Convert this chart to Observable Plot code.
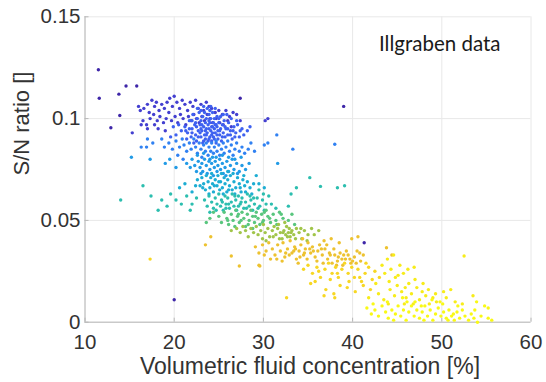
<!DOCTYPE html>
<html><head><meta charset="utf-8">
<script src="https://cdn.jsdelivr.net/npm/d3@7"></script>
<script src="https://cdn.jsdelivr.net/npm/@observablehq/plot@0.6"></script>
<style>body{margin:0;background:#fff}</style>
</head><body><div id="chart"></div>
<script>
const xTicks = [10, 20, 30, 40, 50, 60];
const yTicks = [0, 0.05, 0.1, 0.15];
const yTickLabels = ["0", "0.05", "0.1", "0.15"];
const xLabel = "Volumetric fluid concentration [%]";
const yLabel = "S/N ratio []";
const annotation = "Illgraben data";
const parulaStops = ["#3e26a8", "#4852f4", "#2e87f7", "#12b1d6", "#37c897", "#abc739", "#fbb833", "#f5e51c", "#f9fb14"];

// [fluid concentration %, S/N ratio] grouped by colour level
const outliers = [[11.5,.124],[11.6,.110],[13.8,.112],[14.6,.116],[15.8,.116],[13.9,.1015],[12.9,.0955],[20.0,.011],[39.0,.106],[41.3,.039],[27.4,.110]];
const topBand = [[16.0,.106],[16.2,.104],[16.6,.105],[17.0,.107],[17.2,.103],[17.5,.109],[17.8,.106],[18.0,.108],[18.3,.104],[18.6,.107],[18.9,.105],[19.2,.108],[19.5,.110],[19.8,.106],[20.0,.111],[20.3,.108],[20.6,.105],[20.9,.109],[21.2,.107],[21.5,.104],[21.8,.108],[22.1,.106],[22.4,.109],[22.7,.105],[23.0,.107],[23.3,.104],[23.6,.108],[23.9,.106],[24.2,.105],[24.6,.103],[25.0,.104],[25.4,.102],[25.8,.104],[26.2,.101],[26.6,.103],[27.0,.102],[27.4,.099],[16.5,.099],[16.9,.097],[17.3,.100],[17.7,.102],[18.1,.099],[18.4,.101],[18.8,.098],[19.1,.100],[19.4,.103],[19.7,.099],[20.1,.101],[20.4,.098],[20.7,.102],[21.0,.100],[21.3,.097],[21.6,.101],[21.9,.099],[22.2,.102],[22.5,.100],[22.8,.098],[23.1,.101],[23.4,.099],[23.7,.102],[24.0,.100],[24.3,.098],[24.7,.100],[25.1,.098],[25.5,.097],[26.0,.099],[26.4,.096],[16.3,.097],[17.0,.095],[18.2,.095],[19.0,.094],[15.3,.093],[17.8,.097],[30.5,.100],[30.2,.099]];
const core = [[21.2,.096],[21.5,.093],[21.7,.099],[21.9,.091],[22.0,.095],[22.1,.102],[22.3,.097],[22.4,.092],[22.5,.089],[22.6,.100],[22.7,.094],[22.8,.103],[22.9,.097],[23.0,.091],[23.0,.099],[23.1,.094],[23.2,.101],[23.2,.088],[23.3,.096],[23.4,.092],[23.4,.103],[23.5,.098],[23.5,.090],[23.6,.095],[23.6,.100],[23.7,.093],[23.8,.097],[23.8,.089],[23.9,.102],[23.9,.095],[24.0,.091],[24.0,.098],[24.1,.094],[24.1,.100],[24.2,.096],[24.2,.089],[24.3,.093],[24.3,.103],[24.4,.098],[24.4,.091],[24.5,.095],[24.5,.100],[24.6,.093],[24.7,.097],[24.7,.088],[24.8,.101],[24.9,.094],[24.9,.090],[25.0,.098],[25.1,.092],[25.2,.095],[25.2,.101],[25.3,.089],[25.4,.097],[25.5,.093],[25.6,.099],[25.7,.091],[25.8,.095],[26.0,.092],[26.1,.098],[26.3,.094],[26.5,.090],[26.7,.096],[26.9,.093],[27.1,.097],[27.3,.091],[27.6,.095],[27.8,.092],[22.2,.088],[21.4,.090],[20.8,.094],[20.5,.097],[20.2,.092],[19.9,.096],[19.6,.091],[23.7,.105],[24.1,.106],[23.3,.106],[24.6,.105],[22.6,.105],[25.9,.102],[26.4,.100],[27.0,.099],[28.2,.094],[28.5,.096],[23.1,.097],[23.9,.099],[24.6,.097],[22.9,.093],[23.5,.094],[24.3,.096],[24.8,.092],[22.4,.098],[22.7,.091],[23.0,.095],[23.3,.089],[23.6,.092],[23.9,.090],[24.2,.092],[24.5,.090],[24.8,.096],[25.1,.094],[25.4,.091],[25.7,.096],[26.0,.095],[26.3,.092],[26.6,.094],[22.0,.093],[21.7,.095],[21.3,.094],[22.5,.096],[24.0,.104],[25.0,.100],[25.5,.102],[23.0,.104],[22.0,.099],[26.8,.091],[27.4,.094]];
const blue = [[19.4,.088],[19.8,.085],[20.2,.089],[20.6,.086],[20.9,.090],[21.1,.087],[21.4,.084],[21.7,.088],[21.9,.085],[22.2,.090],[22.4,.086],[22.6,.083],[22.8,.088],[23.0,.085],[23.1,.081],[23.3,.087],[23.5,.084],[23.6,.088],[23.8,.082],[23.9,.086],[24.1,.084],[24.2,.088],[24.4,.083],[24.5,.086],[24.7,.089],[24.8,.084],[25.0,.087],[25.1,.082],[25.3,.085],[25.5,.088],[25.6,.083],[25.8,.086],[26.0,.089],[26.2,.084],[26.4,.087],[26.6,.082],[26.8,.085],[27.0,.088],[27.3,.084],[27.6,.086],[27.9,.083],[28.3,.085],[28.6,.088],[29.0,.084],[18.6,.090],[18.9,.086],[17.0,.090],[17.6,.088],[16.3,.086],[16.9,.086],[30.5,.088],[30.1,.087],[31.5,.092],[33.3,.085],[38.0,.0874],[21.0,.080],[20.4,.082]];
const lightBlue = [[21.4,.078],[21.8,.076],[22.0,.080],[22.3,.077],[22.5,.074],[22.7,.079],[22.9,.076],[23.1,.078],[23.2,.074],[23.4,.080],[23.6,.077],[23.7,.073],[23.9,.079],[24.0,.075],[24.2,.078],[24.3,.081],[24.5,.076],[24.6,.079],[24.8,.074],[24.9,.077],[25.1,.080],[25.2,.075],[25.4,.078],[25.5,.073],[25.7,.076],[25.9,.079],[26.1,.074],[26.3,.077],[26.5,.080],[26.7,.075],[27.0,.078],[27.3,.074],[27.6,.077],[28.0,.075],[28.4,.078],[19.0,.078],[19.5,.080],[20.2,.076],[15.2,.081],[17.3,.080],[31.6,.078],[22.6,.082],[23.3,.083],[24.0,.080],[24.7,.081],[25.4,.082],[26.1,.081],[26.8,.080],[27.5,.081],[23.0,.073],[24.4,.072],[25.8,.072],[27.1,.073]];
const cyan = [[22.6,.070],[22.9,.067],[23.1,.071],[23.3,.068],[23.5,.065],[23.6,.072],[23.8,.069],[24.0,.066],[24.1,.071],[24.3,.068],[24.4,.064],[24.6,.070],[24.8,.067],[24.9,.072],[25.1,.065],[25.2,.069],[25.4,.066],[25.6,.071],[25.7,.068],[25.9,.064],[26.0,.070],[26.2,.067],[26.3,.072],[26.5,.065],[26.7,.069],[26.9,.066],[27.1,.071],[27.3,.068],[27.5,.064],[27.7,.070],[27.9,.067],[28.2,.069],[28.5,.066],[28.9,.068],[29.2,.072],[26.0,.074],[26.6,.073],[25.3,.073],[21.2,.068],[20.6,.066],[22.0,.064],[23.2,.066],[23.9,.063],[24.5,.067],[25.0,.069],[25.5,.063],[26.1,.065],[26.8,.063],[27.4,.066],[28.0,.064],[28.7,.063],[29.5,.068],[30.1,.066],[24.2,.073],[27.8,.072],[22.4,.067]];
const teal = [[23.4,.060],[23.7,.057],[23.9,.062],[24.2,.059],[24.4,.056],[24.6,.061],[24.8,.058],[25.0,.063],[25.2,.057],[25.3,.060],[25.5,.055],[25.7,.062],[25.8,.058],[26.0,.061],[26.2,.056],[26.4,.059],[26.5,.063],[26.7,.057],[26.9,.060],[27.0,.055],[27.2,.062],[27.4,.058],[27.6,.061],[27.8,.056],[28.0,.059],[28.2,.063],[28.4,.057],[28.6,.060],[28.8,.055],[29.0,.058],[29.3,.061],[29.6,.057],[29.9,.060],[30.3,.058],[30.6,.062],[22.5,.061],[22.0,.058],[21.4,.062],[20.8,.058],[20.2,.060],[19.6,.063],[19.2,.057],[18.6,.060],[18.2,.055],[17.4,.062],[16.5,.067],[14.0,.060],[21.8,.055],[35.2,.071],[36.4,.0667],[38.3,.066],[39.1,.067],[33.7,.066],[33.1,.063],[32.8,.057],[29.5,.065],[30.0,.063],[24.0,.054],[24.7,.055],[25.4,.059],[26.1,.058],[26.8,.062],[27.5,.059],[28.1,.056],[28.9,.061],[29.4,.056],[30.1,.055],[30.9,.058],[31.4,.056],[25.8,.056],[27.2,.057],[28.5,.062]];
const green = [[25.0,.052],[25.3,.049],[25.6,.054],[25.9,.051],[26.1,.048],[26.4,.053],[26.6,.050],[26.9,.055],[27.1,.052],[27.3,.049],[27.6,.054],[27.8,.051],[28.0,.047],[28.2,.053],[28.4,.050],[28.6,.055],[28.8,.052],[29.0,.049],[29.2,.054],[29.4,.051],[29.6,.048],[29.8,.053],[30.0,.050],[30.3,.055],[30.5,.052],[30.8,.049],[31.1,.053],[31.4,.050],[31.8,.054],[32.2,.051],[33.2,.053],[24.4,.054],[24.0,.051],[23.6,.049],[26.0,.050],[26.8,.047],[27.5,.050],[28.3,.048],[29.1,.052],[29.9,.049],[30.7,.051],[31.5,.048],[32.0,.053],[32.8,.050],[33.5,.048],[28.8,.046],[27.2,.053],[30.1,.054]];
const yellowGreen = [[27.0,.046],[27.4,.044],[27.7,.047],[28.0,.045],[28.3,.042],[28.6,.046],[28.9,.044],[29.2,.047],[29.4,.043],[29.7,.045],[30.0,.048],[30.2,.044],[30.5,.046],[30.7,.042],[31.0,.045],[31.2,.047],[31.4,.043],[31.6,.046],[31.9,.044],[32.1,.041],[32.3,.045],[32.5,.043],[32.6,.047],[32.8,.044],[33.0,.042],[33.2,.045],[33.4,.043],[33.7,.046],[34.0,.044],[34.3,.041],[34.6,.045],[35.0,.043],[35.4,.046],[32.4,.049],[31.7,.048],[29.9,.041],[26.4,.045],[30.3,.040],[31.1,.042],[31.8,.041],[32.2,.044],[32.9,.046],[33.6,.041],[34.2,.046],[34.9,.040],[35.7,.043],[36.2,.045],[33.1,.044],[32.7,.042]];
const orange = [[29.1,.037],[29.5,.034],[29.9,.038],[30.3,.035],[30.6,.039],[31.0,.036],[31.3,.033],[31.6,.038],[31.9,.035],[32.2,.039],[32.4,.032],[32.7,.036],[33.0,.040],[33.2,.034],[33.5,.037],[33.7,.031],[34.0,.035],[34.2,.038],[34.5,.033],[34.7,.036],[35.0,.039],[35.3,.034],[35.5,.037],[35.8,.032],[36.1,.035],[36.3,.038],[36.6,.033],[36.9,.036],[37.2,.031],[37.4,.034],[37.7,.029],[38.0,.033],[38.3,.030],[38.6,.034],[38.9,.028],[39.2,.031],[39.5,.033],[39.8,.029],[40.2,.032],[40.5,.035],[40.9,.030],[41.2,.033],[36.8,.040],[37.6,.041],[38.5,.039],[39.9,.041],[40.6,.042],[34.4,.041],[33.9,.029],[32.1,.030],[30.8,.031],[29.5,.028],[27.3,.0276],[29.6,.0276],[26.4,.0325],[23.5,.038],[24.1,.042],[43.8,.0366],[44.4,.033],[30.1,.033],[31.5,.031],[32.9,.033],[33.4,.035],[34.1,.032],[34.9,.031],[35.6,.035],[36.0,.030],[36.5,.036],[37.1,.038],[37.9,.036],[38.4,.032],[38.8,.031],[39.3,.035],[39.7,.031],[40.0,.030],[40.4,.029],[35.2,.036],[34.6,.034],[33.6,.036],[32.5,.034],[37.5,.033],[39.0,.033],[40.8,.034],[38.2,.028],[36.7,.029]];
const orangeYellow = [[34.5,.026],[35.0,.028],[35.5,.024],[36.0,.027],[36.4,.022],[36.9,.026],[37.3,.029],[37.7,.024],[38.1,.027],[38.4,.022],[38.8,.026],[39.1,.029],[39.5,.024],[39.9,.027],[40.2,.022],[40.6,.026],[41.0,.020],[41.4,.024],[41.8,.027],[42.2,.021],[35.3,.019],[35.8,.020],[37.0,.016],[37.9,.014],[38.6,.018],[39.4,.017],[40.3,.015],[41.2,.018],[42.0,.016],[32.6,.012],[36.8,.013],[38.0,.012],[17.3,.031],[39.6,.020],[40.8,.022],[41.5,.029],[42.5,.025],[43.0,.022],[38.3,.024],[36.2,.025],[37.5,.021]];
const yellow = [[43.3,.028],[43.6,.024],[43.9,.031],[44.1,.020],[44.3,.026],[44.6,.033],[44.8,.022],[45.0,.018],[45.3,.028],[45.5,.015],[45.7,.024],[46.0,.012],[46.3,.019],[46.6,.014],[46.9,.027],[47.2,.017],[47.5,.011],[47.8,.015],[48.2,.013],[48.6,.009],[49.0,.012],[49.4,.010],[42.6,.019],[42.9,.014],[43.5,.011],[44.7,.013],[45.8,.009],[41.8,.012],[52.5,.0325],[50.5,.012],[51.5,.010],[53.5,.013],[52.3,.009],[44.2,.016],[45.1,.023],[46.2,.026],[47.0,.021],[47.9,.019],[48.5,.016],[49.3,.014],[50.2,.015],[51.0,.016],[45.9,.017],[44.0,.009],[46.8,.009]];
const brightYellow = [[41.6,.007],[42.1,.004],[42.5,.006],[42.9,.003],[43.3,.008],[43.7,.005],[44.0,.002],[44.4,.006],[44.8,.004],[45.1,.008],[45.4,.003],[45.7,.006],[46.0,.001],[46.3,.005],[46.6,.008],[46.9,.003],[47.2,.006],[47.5,.002],[47.8,.005],[48.1,.008],[48.4,.003],[48.7,.006],[49.0,.001],[49.3,.004],[49.6,.007],[49.9,.003],[50.2,.005],[50.5,.002],[50.8,.006],[51.1,.003],[51.4,.001],[51.7,.005],[52.0,.002],[52.3,.006],[52.6,.003],[53.0,.001],[53.3,.004],[53.6,.002],[54.0,.000],[54.4,.003],[54.8,.008],[55.2,.002],[55.6,.001],[53.7,.006],[51.3,.004],[50.1,.009],[48.9,.011],[47.0,.010],[45.6,.012],[42.3,.009],[43.9,.010],[46.1,.010],[47.7,.008],[49.8,.010],[51.8,.008],[53.9,.010],[55.2,.007],[50.7,.001],[48.0,.001],[44.6,.001]];

const groups = [
  [0.07, topBand], [0.16, core], [0.24, blue], [0.31, lightBlue], [0.37, cyan],
  [0.45, teal], [0.53, green], [0.62, yellowGreen], [0.75, orange], [0.84, orangeYellow],
  [0.92, yellow], [0.99, brightYellow], [0.0, outliers]
];
const table = groups.flatMap(([level, pts]) => pts.map(([x, y]) => ({x, y, level})));

const W = 546, H = 382, mL = 84.5, mR = 15.5, mT = 16.3, mB = 60.3;
const chart = Plot.plot({
  width: W, height: H,
  marginLeft: mL, marginRight: mR, marginTop: mT, marginBottom: mB,
  style: {fontFamily: "'Liberation Sans', Arial, sans-serif", fontSize: "20.5px", color: "#333", background: "#fff"},
  x: {domain: [xTicks[0], xTicks[xTicks.length - 1]]},
  y: {domain: [yTicks[0], yTicks[yTicks.length - 1]]},
  color: {type: "linear", domain: [0, 1], interpolate: d3.interpolateRgbBasis(parulaStops)},
  marks: [
    Plot.gridX(xTicks, {stroke: "#e8e8e8", strokeOpacity: 1}),
    Plot.gridY(yTicks, {stroke: "#e8e8e8", strokeOpacity: 1}),
    Plot.ruleX([xTicks[0]], {stroke: "#b8b8b8"}),
    Plot.ruleY([yTicks[0]], {stroke: "#b8b8b8"}),
    Plot.ruleX(xTicks, {stroke: "#b8b8b8", insetTop: H - mT - mB - 4}),
    Plot.ruleY(yTicks, {stroke: "#b8b8b8", insetRight: W - mL - mR - 4}),
    Plot.axisX(xTicks, {tickSize: 0, tickPadding: 12, label: null, fontSize: 20.5}),
    Plot.axisY(yTicks, {tickSize: 0, tickPadding: 4.5, label: null, fontSize: 20.5,
      tickFormat: d => yTickLabels[yTicks.indexOf(d)]}),
    Plot.dot(table, {x: "x", y: "y", r: 1.7, fill: "level", stroke: null}),
    Plot.text([xLabel], {text: d => d, frameAnchor: "bottom", dy: 52, dx: 2, lineAnchor: "bottom", fontSize: 23, fill: "#333"}),
    Plot.text([yLabel], {text: d => d, frameAnchor: "left", rotate: -90, dx: -63, dy: 6, lineAnchor: "middle", fontSize: 22, fill: "#333"}),
    Plot.text([annotation], {text: d => d, frameAnchor: "top-right", textAnchor: "end", dx: -30.5, dy: 34, lineAnchor: "bottom", fontFamily: "Lato, 'Open Sans', sans-serif", fontSize: 20.5, fill: "#1a1a1a"})
  ]
});
document.getElementById("chart").appendChild(chart);
</script>
</body></html>
